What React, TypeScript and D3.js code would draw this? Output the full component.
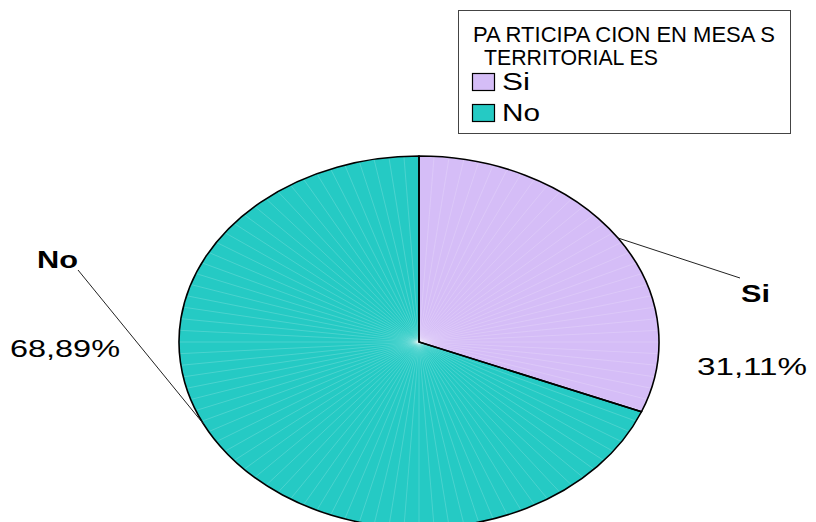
import React from "react";
import * as d3 from "d3";

const categories = ["Si", "No"];
const values = [31.11, 68.89];
const valueLabels = ["31,11%", "68,89%"];
const colors = ["#D5BDF7", "#25CAC4"];
const legendTitle = ["PA RTICIPA CION EN MESA S", "TERRITORIAL ES"];

const W = 816;
const H = 522;
const cx = 419;
const cy = 342;
const rx = 240;
const ry = 186;

export default function App() {
  const pie = d3.pie<number>().sort(null).value((d) => d);
  const arcs = pie(values);
  const arc = d3.arc<d3.PieArcDatum<number>>().innerRadius(0).outerRadius(1);
  const rays = d3.range(0, 2 * Math.PI, (2 * Math.PI) / 100);
  const edge = (a: number, k = 1) => [cx + rx * k * Math.sin(a), cy - ry * k * Math.cos(a)];

  // label layout (positions of text + leader anchor angle)
  const labelLayout = [
    { name: { x: 741, y: 302, w: 29 }, val: { x: 697, y: 375, w: 110 }, end: [740, 278], angle: (arcs[0].startAngle + arcs[0].endAngle) / 2 },
    { name: { x: 37, y: 268, w: 41 }, val: { x: 10, y: 357, w: 110 }, end: [78, 270], angle: 4.255 },
  ];

  return (
    <svg width={W} height={H} style={{ display: "block", position: "absolute", left: 0, top: 0 }} fontFamily="'Liberation Sans', Arial, sans-serif">
      <rect width={W} height={H} fill="#fff" />
      <g transform={`translate(${cx},${cy}) scale(${rx},${ry})`}>
        {arcs.map((a, i) => (
          <path key={i} d={arc(a) || ""} fill={colors[i]} stroke="none" />
        ))}
        {rays.map((t, i) => (
          <line key={i} x1={0} y1={0} x2={Math.sin(t)} y2={-Math.cos(t)} stroke="#ffffff" strokeOpacity={0.25} strokeWidth={0.7} vectorEffect="non-scaling-stroke" />
        ))}
        {arcs.map((a, i) => (
          <path key={"o" + i} d={arc(a) || ""} fill="none" stroke="#000" strokeWidth={1.6} vectorEffect="non-scaling-stroke" strokeLinejoin="miter" />
        ))}
      </g>
      {arcs.map((a, i) => {
        const L = labelLayout[i];
        const [ex, ey] = edge(L.angle);
        return (
          <g key={"l" + i}>
            <line x1={ex} y1={ey} x2={L.end[0]} y2={L.end[1]} stroke="#222" strokeWidth={1} />
            <text x={L.name.x} y={L.name.y} fontSize={23} fontWeight="bold" textLength={L.name.w} lengthAdjust="spacingAndGlyphs">{categories[i]}</text>
            <text x={L.val.x} y={L.val.y} fontSize={24} textLength={L.val.w} lengthAdjust="spacingAndGlyphs">{valueLabels[i]}</text>
          </g>
        );
      })}
      <g>
        <rect x={458.5} y={10.5} width={332} height={123} fill="#fff" stroke="#444" strokeWidth={1} />
        <text x={473} y={42} fontSize={22} textLength={302} lengthAdjust="spacingAndGlyphs">{legendTitle[0]}</text>
        <text x={484} y={65} fontSize={22} textLength={174} lengthAdjust="spacingAndGlyphs">{legendTitle[1]}</text>
        {categories.map((c, i) => (
          <g key={c}>
            <rect x={472.5} y={73.5 + i * 31} width={22} height={17} fill={colors[i]} stroke="#000" strokeWidth={1.2} />
            <text x={502} y={90 + i * 31} fontSize={23} textLength={i === 0 ? 28 : 38} lengthAdjust="spacingAndGlyphs">{c}</text>
          </g>
        ))}
      </g>
    </svg>
  );
}
